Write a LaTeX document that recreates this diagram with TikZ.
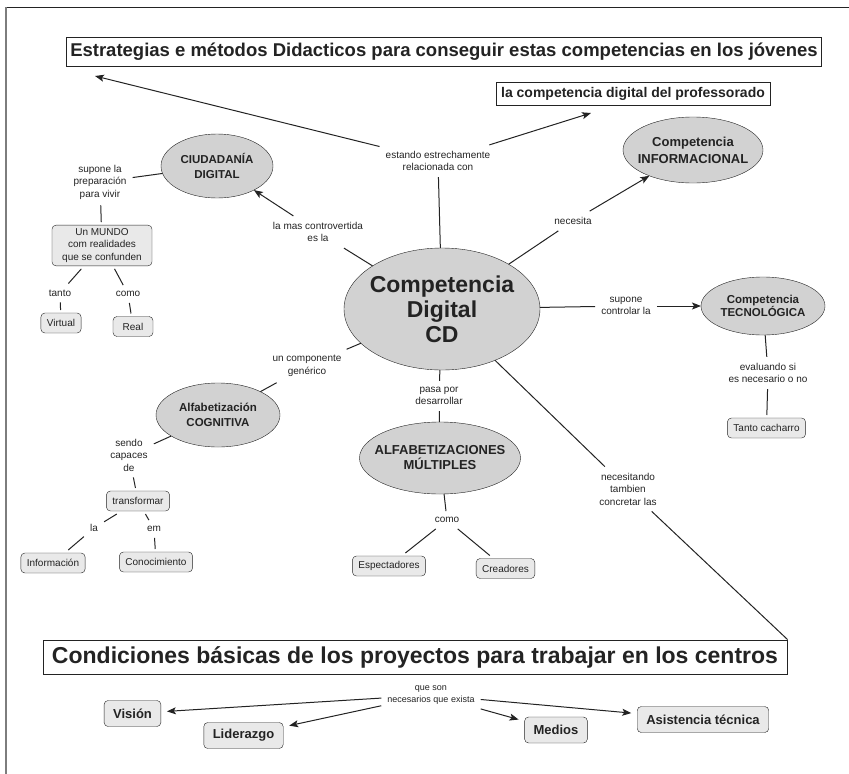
\documentclass[tikz,border=0pt]{standalone}
\usepackage{fontspec}
\setmainfont{Liberation Sans}
\usepackage{xcolor}
\usepackage{tikz}
\usetikzlibrary{shapes.geometric, arrows.meta}
\definecolor{ink}{RGB}{35, 35, 35}
\definecolor{conceptgray}{RGB}{210, 210, 210}
\definecolor{boxgray}{RGB}{233, 233, 233}
\definecolor{framegray}{RGB}{125, 125, 125}

\begin{document}
\begin{tikzpicture}[
    x=1pt, y=-1pt,
    concept/.style={ellipse, draw=ink, fill=conceptgray, align=center, text=ink,
                    inner xsep=-10pt, inner ysep=0pt, outer sep=0pt,
                    font=\bfseries\fontsize{11.5}{15}\selectfont},
    leaf/.style={rectangle, rounded corners=4pt, draw=ink, fill=boxgray, align=center, text=ink,
                 inner xsep=6pt, minimum width=40pt, minimum height=20pt, outer sep=3pt,
                 font=\fontsize{10}{12.5}\selectfont},
    need/.style={leaf, inner xsep=9pt, minimum height=26pt, outer sep=6pt,
                 font=\bfseries\fontsize{13}{15}\selectfont},
    banner/.style={rectangle, draw=ink, fill=white, line width=1pt, text=ink, inner xsep=4pt},
    link/.style={align=center, text=ink, inner sep=6pt, font=\fontsize{10}{12.5}\selectfont},
    conn/.style={draw=ink, line width=1pt},
    arrow/.style={conn, -{Stealth[length=9pt, width=7pt, inset=2pt]}}
]
\useasboundingbox (0,0) rectangle (849,774);
\draw[ink, line width=1pt] (5,7) -- (849,7);
\draw[framegray, line width=2pt] (6,7) -- (6,774);

\node[banner, minimum width=754pt, minimum height=29pt, font=\bfseries\fontsize{18.5}{20}\selectfont] (estrategias) at (444,51.5)
    {Estrategias e métodos Didacticos para conseguir estas competencias en los jóvenes};
\node[banner, minimum width=274pt, minimum height=23pt, font=\bfseries\fontsize{14}{16}\selectfont] (profesorado) at (633,93.5)
    {la competencia digital del professorado};
\node[banner, minimum width=744pt, minimum height=34pt, font=\bfseries\fontsize{23}{25}\selectfont] (condiciones) at (415,657)
    {Condiciones básicas de los proyectos para trabajar en los centros};
\coordinate (t1tip) at (95,76);
\coordinate (t2tip) at (591,113);

\node[concept, minimum width=196pt, minimum height=122pt, font=\bfseries\fontsize{23}{25}\selectfont] (cd) at (442,309) {Competencia\\Digital\\CD};
\node[concept, minimum width=112pt, minimum height=64pt] (ciudadania) at (217,166) {CIUDADANÍA\\DIGITAL};
\node[concept, minimum width=140pt, minimum height=66pt, font=\bfseries\fontsize{13}{17}\selectfont] (informacional) at (693,150) {Competencia\\INFORMACIONAL};
\node[concept, minimum width=124pt, minimum height=58pt, font=\bfseries\fontsize{11.5}{13.5}\selectfont] (tecnologica) at (763,306) {Competencia\\TECNOLÓGICA};
\node[concept, minimum width=124pt, minimum height=64pt] (cognitiva) at (218,415) {Alfabetización\\COGNITIVA};
\node[concept, minimum width=161pt, minimum height=72pt, font=\bfseries\fontsize{13}{15}\selectfont] (multiples) at (440,458) {ALFABETIZACIONES\\MÚLTIPLES};

\node[leaf, minimum width=100pt] (mundo) at (102,245.5) {Un MUNDO\\com realidades\\que se confunden};
\node[leaf] (virtual) at (61,323) {Virtual};
\node[leaf] (real) at (133,326.5) {Real};
\node[leaf] (transformar) at (138,501) {transformar};
\node[leaf] (informacion) at (53,563) {Información};
\node[leaf] (conocimiento) at (156,562) {Conocimiento};
\node[leaf] (espectadores) at (389,566) {Espectadores};
\node[leaf] (creadores) at (505.5,568.5) {Creadores};
\node[leaf] (cacharro) at (766.5,428) {Tanto cacharro};

\node[need] (vision) at (132.5,713.5) {Visión};
\node[need] (liderazgo) at (243.5,735.5) {Liderazgo};
\node[need] (medios) at (556,730) {Medios};
\node[need] (asistencia) at (703,719.5) {Asistencia técnica};

\node[link] (estando) at (438,161) {estando estrechamente\\relacionada con};
\node[link] (controvertida) at (318,232) {la mas controvertida\\es la};
\node[link] (preparacion) at (100,182) {supone la\\preparación\\para vivir};
\node[link] (tanto) at (60,293) {tanto};
\node[link] (como) at (128,294) {como};
\node[link] (necesita) at (573,221) {necesita};
\node[link] (controlar) at (626,306) {supone\\controlar la};
\node[link] (evaluando) at (768,373) {evaluando si\\es necesario o no};
\node[link] (componente) at (307,366) {un componente\\genérico};
\node[link] (capaces) at (129,455) {sendo\\capaces\\de};
\node[link] (la) at (94,528) {la};
\node[link] (em) at (154,529) {em};
\node[link] (pasa) at (439,396) {pasa por\\desarrollar};
\node[link] (comoalf) at (447,520) {como};
\node[link] (necesitando) at (628,489) {necesitando\\tambien\\concretar las};
\node[link, font=\fontsize{9}{12}\selectfont] (exista) at (431,695) {que son\\necesarios que exista};

\draw[conn] (cd) -- (estando);
\draw[arrow] (estando) -- (t1tip);
\draw[arrow] (estando) -- (t2tip);
\draw[conn] (cd) -- (controvertida);
\draw[arrow] (controvertida) -- (ciudadania);
\draw[conn] (ciudadania) -- (preparacion);
\draw[conn] (preparacion) -- (mundo);
\draw[conn] (mundo) -- (tanto);
\draw[conn] (tanto) -- (virtual);
\draw[conn] (mundo) -- (como);
\draw[conn] (como) -- (real);
\draw[conn] (cd) -- (necesita);
\draw[arrow] (necesita) -- (informacional);
\draw[conn] (cd) -- (controlar);
\draw[arrow] (controlar) -- (tecnologica);
\draw[conn] (tecnologica) -- (evaluando);
\draw[conn] (evaluando) -- (cacharro);
\draw[conn] (cd) -- (componente);
\draw[conn] (componente) -- (cognitiva);
\draw[conn] (cognitiva) -- (capaces);
\draw[conn] (capaces) -- (transformar);
\draw[conn] (transformar) -- (la);
\draw[conn] (la) -- (informacion);
\draw[conn] (transformar) -- (em);
\draw[conn] (em) -- (conocimiento);
\draw[conn] (cd) -- (pasa);
\draw[conn] (pasa) -- (multiples);
\draw[conn] (multiples) -- (comoalf);
\draw[conn] (comoalf) -- (espectadores);
\draw[conn] (comoalf) -- (creadores);
\draw[conn] (cd) -- (necesitando);
\draw[conn] (necesitando) -- (condiciones.north east);
\draw[arrow] (exista) -- (vision);
\draw[arrow] (exista) -- (liderazgo);
\draw[arrow] (exista) -- (medios);
\draw[arrow] (exista) -- (asistencia);
\end{tikzpicture}
\end{document}
